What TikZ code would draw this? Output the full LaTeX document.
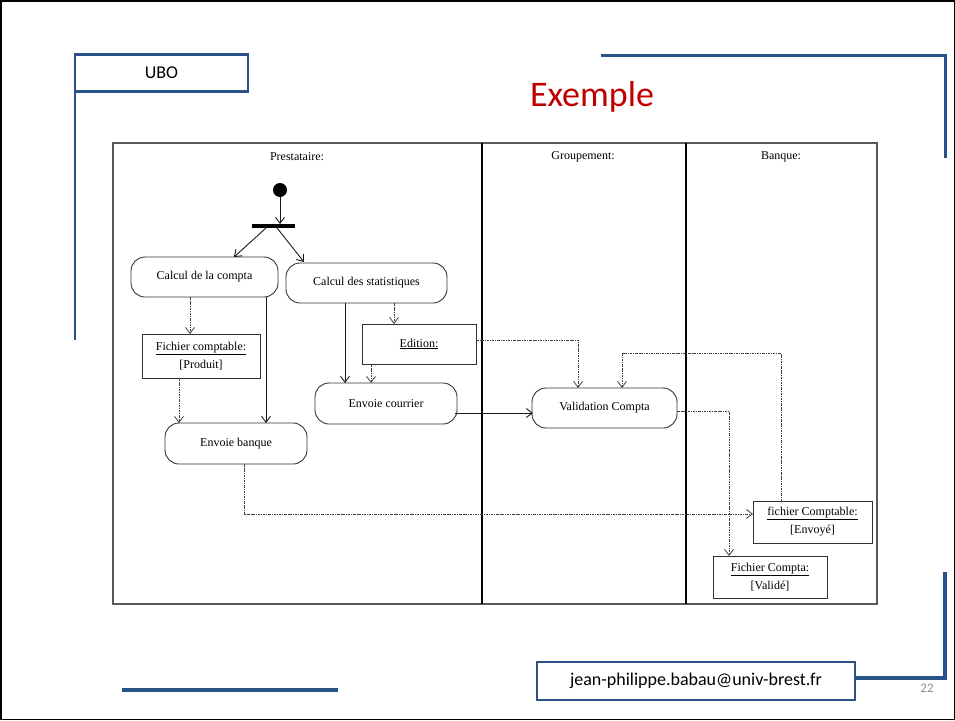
\documentclass[tikz,border=0pt]{standalone}
\usepackage{fontspec}
\setmainfont{Liberation Serif}
\newfontfamily\slidefont{Carlito}
\usetikzlibrary{arrows.meta,calc}
\definecolor{slideblue}{RGB}{41,82,135}
\definecolor{titlered}{RGB}{192,0,0}
\definecolor{umlline}{RGB}{50,50,50}
% underlined object name with the rule close under the text
\newcommand\objname[1]{\leavevmode\vtop{\hbox{#1}\kern0.6pt\hrule height0.6pt}}

\begin{document}
\begin{tikzpicture}[x=1pt,y=-1pt,
  every node/.style={inner sep=0pt,outer sep=0pt},
  activity/.style={draw=umlline,line width=0.9pt,rounded corners=14pt,minimum height=40pt,
    text=black,font=\fontsize{12}{14}\selectfont},
  objbox/.style={draw=umlline,line width=0.9pt,minimum height=42pt,align=center,
    text=black,font=\fontsize{12}{18}\selectfont},
  lanehead/.style={text=black,font=\fontsize{12}{14}\selectfont},
  ctrl/.style={draw=black!90,line width=0.9pt,-{Straight Barb[length=6pt,width=9pt]}},
  objflow/.style={draw=black!75,line width=0.8pt,dash pattern=on 2.5pt off 1pt on 0.8pt off 1pt,
    -{Straight Barb[length=6pt,width=9pt,line width=0.8pt]}},
  deco/.style={draw=slideblue,line width=3pt},
  slidelabel/.style={draw=slideblue,line width=2.5pt,fill=white,text=black,
    font=\slidefont\fontsize{18}{20}\selectfont}
]
\useasboundingbox (0,0) rectangle (955,720);
% slide frame
\draw[black,line width=1.5pt] (0.75,0.75) rectangle (954.25,719.25);

% slide decorations
\draw[deco,line width=2.5pt] (75,77) -- (75,340);
\node[slidelabel,minimum width=173pt,minimum height=37pt] (ubo) at (161.5,73) {UBO};
\draw[deco] (601,55) -- (945,55) -- (945,158);
\draw[deco,line width=3.5pt] (945,572) -- (945,678) -- (855,678);
\draw[deco,line width=4pt] (122,690) -- (338,690);
\node[slidelabel,minimum width=318pt,minimum height=38pt] (mail) at (696,681)
  {jean-philippe.babau@univ-brest.fr};
\node[text=black!45,font=\slidefont\fontsize{13}{14}\selectfont] (pg) at (927,688) {22};
\node[text=titlered,font=\slidefont\fontsize{36}{40}\selectfont] (title) at (592,97) {Exemple};

% swimlanes
\draw[draw=black!65,line width=1.3pt] (113,143) rectangle (877,604);
\draw[black,line width=1.8pt] (482,143) -- (482,604);
\draw[black,line width=1.8pt] (686,143) -- (686,604);
\node[lanehead] (hp) at (297,157) {Prestataire:};
\node[lanehead] (hg) at (583,157) {Groupement:};
\node[lanehead] (hb) at (781,157) {Banque:};

% initial state and fork
\node[circle,fill=black,minimum size=14pt] (start) at (280,190) {};
\node[fill=black,minimum width=43pt,minimum height=4pt] (fork) at (273,226) {};

% activities
\node[activity,minimum width=147pt] (cc) at (204.5,277) {Calcul de la compta};
\node[activity,minimum width=161pt] (cs) at (366.5,283) {Calcul des statistiques};
\node[activity,minimum width=142pt,minimum height=41pt] (ec) at (386,403.5) {Envoie courrier};
\node[activity,minimum width=142pt,minimum height=41pt] (eb) at (236,443.5) {Envoie banque};
\node[activity,minimum width=145pt] (vc) at (604.5,408) {Validation Compta};

% objects
\node[objbox,minimum width=118pt,minimum height=44pt] (fc) at (201,356)
  {\objname{Fichier comptable:}\\{[Produit]}};
\node[objbox,minimum width=114pt,minimum height=40pt] (ed) at (419,344) {\objname{Edition:}};
\node[objbox,minimum width=119pt] (fce) at (812.5,522)
  {\objname{fichier Comptable:}\\{[Envoyé]}};
\node[objbox,minimum width=114pt] (fcv) at (770,577)
  {\objname{Fichier Compta:}\\{[Validé]}};

% control flow
\draw[ctrl] (start.south) -- (start.south |- fork.north);
\draw[ctrl] ($(fork.south)+(-7,0)$) -- ($(cc.north)+(29.5,0)$);
\draw[ctrl] ($(fork.south)+(4,0)$) -- ($(cs.north)+(-62.5,-1)$);
\draw[ctrl] ($(cc.south)+(61.5,0)$) -- ($(eb.north)+(30,0)$);
\draw[ctrl] ($(cs.south)+(-21.5,0)$) -- ($(ec.north)+(-41,0)$);
\draw[ctrl] ($(ec.east)+(-2,9.5)$) -- ($(vc.west)+(1,5)$);

% object flow
\draw[objflow] ($(cc.south)+(-14.5,0)$) -- ($(fc.north)+(-11,0)$);
\draw[objflow] ($(fc.south)+(-22,0)$) -- ($(eb.north)+(-57,0)$);
\draw[objflow] ($(cs.south)+(27.5,0)$) -- ($(ed.north)+(-25,0)$);
\draw[objflow] ($(ed.south)+(-48,0)$) -- ($(ec.north)+(-15,0)$);
\draw[objflow] ($(ed.east)+(0,-4)$) -| ($(vc.north)+(-26.5,0)$);
\draw[objflow] ($(fce.north)+(-31.5,0)$) |- ($(vc.north)+(17.5,-35)$) -- ($(vc.north)+(17.5,0)$);
\draw[objflow] ($(vc.east)+(0,3)$) -| ($(fcv.north)+(-41,0)$);
\draw[objflow] ($(eb.south)+(8,0)$) |- ($(fce.west)+(0,-8)$);
\end{tikzpicture}
\end{document}
